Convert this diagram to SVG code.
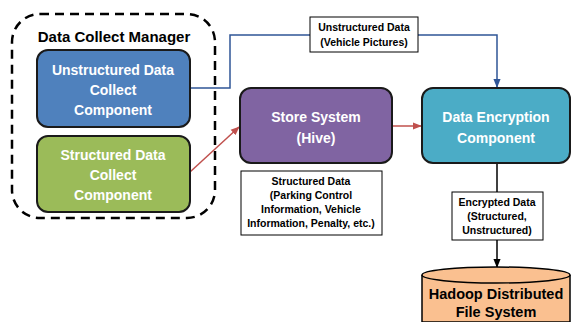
<svg xmlns="http://www.w3.org/2000/svg" width="571" height="322" viewBox="0 0 571 322">
<defs>
<style>
text{font-family:"Liberation Sans",Arial,sans-serif;font-weight:bold;text-anchor:middle}
.w{fill:#fff;font-size:14px}
.lbl{font-size:10.5px;fill:#000}
.box{stroke:#1a1a1a;stroke-width:2}
.lb{fill:#fff;stroke:#000;stroke-width:1}
</style>
<marker id="ab" viewBox="0 0 10 10" refX="9" refY="5" markerWidth="6" markerHeight="6" orient="auto"><path d="M0,1 L10,5 L0,9 z" fill="#2f5597"/></marker>
<marker id="ar" viewBox="0 0 10 10" refX="9" refY="5" markerWidth="6" markerHeight="6" orient="auto"><path d="M0,1 L10,5 L0,9 z" fill="#c0504d"/></marker>
<marker id="ak" viewBox="0 0 10 10" refX="9" refY="5" markerWidth="6" markerHeight="6" orient="auto"><path d="M0,1 L10,5 L0,9 z" fill="#000"/></marker>
</defs>
<rect width="571" height="322" fill="#fff"/>
<g id="manager">
<rect x="12" y="14" width="203" height="204" rx="28" fill="none" stroke="#000" stroke-width="2.5" stroke-dasharray="9,6"/>
<text x="114" y="42" font-size="15" fill="#000">Data Collect Manager</text>
</g>
<g id="connectors" fill="none" stroke-width="1.5">
<path d="M190,88 H230 V35 H310 M418,35 H497 V87" stroke="#2f5597" marker-end="url(#ab)"/>
<path d="M190,172 L239,127" stroke="#c0504d" marker-end="url(#ar)"/>
<path d="M392,126 H421" stroke="#c0504d" marker-end="url(#ar)"/>
<path d="M497,163 V192" stroke="#000"/>
<path d="M497,240 V267" stroke="#000" marker-end="url(#ak)"/>
</g>
<g id="unstructured">
<rect class="box" x="37" y="50" width="153" height="77" rx="11" fill="#4f81bd"/>
<text class="w" x="113" y="75">Unstructured Data</text>
<text class="w" x="113" y="95">Collect</text>
<text class="w" x="113" y="115">Component</text>
</g>
<g id="structured">
<rect class="box" x="37" y="136" width="153" height="76" rx="11" fill="#9bbb59"/>
<text class="w" x="113" y="160">Structured Data</text>
<text class="w" x="113" y="180">Collect</text>
<text class="w" x="113" y="200">Component</text>
</g>
<g id="store">
<rect class="box" x="240" y="88" width="152" height="75" rx="11" fill="#8064a2"/>
<text class="w" x="316" y="122">Store System</text>
<text class="w" x="316" y="143">(Hive)</text>
</g>
<g id="encryption">
<rect class="box" x="422" y="88" width="148" height="75" rx="11" fill="#4bacc6"/>
<text class="w" x="496" y="122" font-size="15">Data Encryption</text>
<text class="w" x="496" y="143" font-size="15">Component</text>
</g>
<g id="hdfs">
<path d="M422,275 V322 H570 V275" fill="#fac090" stroke="#000" stroke-width="1.5"/>
<ellipse cx="496" cy="275" rx="74" ry="8" fill="#fac090" stroke="#000" stroke-width="1.5"/>
<text x="496" y="299" font-size="14.5" fill="#000">Hadoop Distributed</text>
<text x="496" y="317" font-size="14.5" fill="#000">File System</text>
</g>
<g id="label-unstructured">
<rect class="lb" x="310" y="17" width="108" height="35"/>
<text class="lbl" x="364" y="31">Unstructured Data</text>
<text class="lbl" x="364" y="46">(Vehicle Pictures)</text>
</g>
<g id="label-structured">
<rect class="lb" x="241" y="171" width="141" height="64"/>
<text class="lbl" x="311" y="185">Structured Data</text>
<text class="lbl" x="311" y="199">(Parking Control</text>
<text class="lbl" x="311" y="213">Information, Vehicle</text>
<text class="lbl" x="311" y="227">Information, Penalty, etc.)</text>
</g>
<g id="label-encrypted">
<rect class="lb" x="452" y="192" width="91" height="48"/>
<text class="lbl" x="497" y="206">Encrypted Data</text>
<text class="lbl" x="497" y="220">(Structured,</text>
<text class="lbl" x="497" y="234">Unstructured)</text>
</g>
</svg>
